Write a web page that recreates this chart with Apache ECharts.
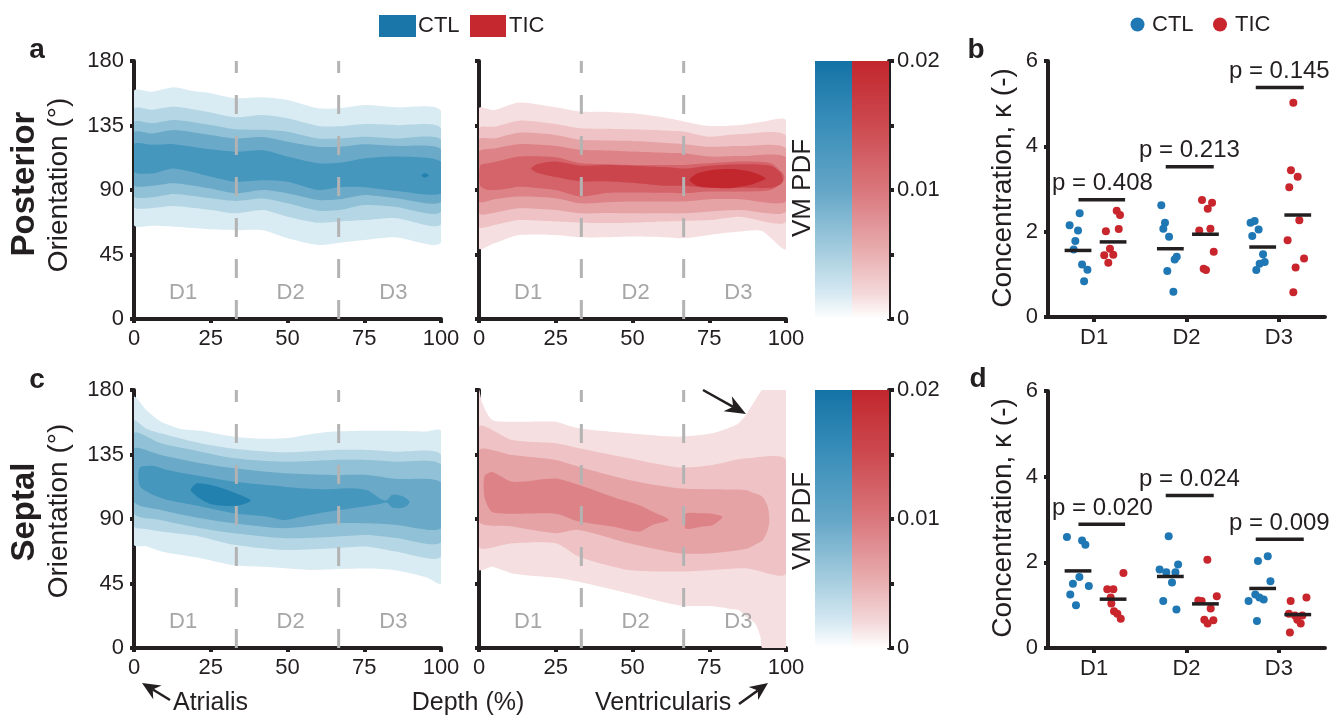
<!DOCTYPE html>
<html>
<head>
<meta charset="utf-8">
<title>Orientation and concentration</title>
<script src="https://cdn.jsdelivr.net/npm/echarts@6/dist/echarts.min.js"></script>
<style>
  html, body { margin: 0; padding: 0; background: #fff; }
  #main { width: 1331px; height: 717px; }
</style>
</head>
<body>
<div id="main"></div>
<script>
// contour bands: [depth %, lower deg, upper deg]
const postCtlBands = [
  [[0,65.6,159],[6,65,158.5],[13,64.4,161.6],[19,63.5,159],[25,62.6,157.5],[33,62,154],[42,62,154.7],[50,56.3,152.8],[60,51.6,147],[67,53.2,147],[75,55.1,149.3],[85,57,147.7],[100,53.5,145]],
  [[0,78.4,146.5],[6,77.5,146],[13,78.8,148],[25,76,144],[33,73.7,140.7],[42,76,142.3],[50,71.4,140],[60,67.2,134.7],[67,68,134.4],[75,69,136],[85,70.5,135.3],[100,66.3,133]],
  [[0,85.8,137.2],[6,85,136.5],[13,87.2,138.8],[25,84.2,135.3],[33,82.3,132.3],[42,84,132],[50,80.7,130.7],[60,75.6,126],[67,76,126],[75,79.5,127.2],[85,78.4,126],[100,74.8,124.9]],
  [[0,93.5,130.2],[6,93,129.5],[13,94.7,131.9],[25,91,128.4],[33,87.7,126],[42,90,127],[50,87.7,123.7],[60,83,120.2],[67,83.5,120.2],[75,86.5,122],[85,84.4,120.8],[100,81.8,118.4]],
  [[0,102.8,122],[6,101.5,121.5],[13,105,122],[25,99.3,118.4],[33,95.8,116.7],[42,96.8,117.7],[50,95.8,113.3],[60,90,108.6],[67,92,109],[75,92,112],[85,89.5,113.3],[100,87.7,109.7]],
  [[93.6,100.2,100.2],[94.8,98.7,101.7],[96,100.2,100.2]]
];
const postCtlLevel = [0, 1, 2, 3, 4, 5];

const postTicBands = [
  [[0,49.3,147],[5,52.8,145.8],[13,58.6,151],[25,58.6,147.7],[33,57,144.7],[42,57,144.5],[50,57.5,143.5],[60,57,140.7],[67,56.3,137.7],[75,58.6,134.7],[85,61,135.4],[92,61.5,137.5],[100,49,138.5]],
  [[0,64.4,133],[5,65.6,134.2],[13,69,138.4],[25,68,136],[33,67.2,133],[42,67,132.8],[50,67.2,132.3],[60,68,131.5],[67,68.4,130.7],[75,69,127.2],[85,71.4,129],[100,68,127.7]],
  [[0,73.7,125],[5,74.2,126],[13,77.2,130],[25,76,128.4],[33,73.7,125],[42,74,124.5],[50,73.7,124.2],[60,73.7,123],[67,73.7,122],[75,75,120.2],[85,76,120.7],[100,75,119]],
  [[0,81.9,116.8],[5,83.5,119],[13,85.4,122],[25,84.2,120.7],[33,80.7,118],[42,81.5,117.5],[50,81.9,116.8],[60,81.9,116],[67,81.9,115.6],[75,83.5,113.3],[85,83.5,113.7],[100,81.9,112.8]],
  [[0.4,93,107],[3,90,108.6],[8,90.5,111],[13,92.3,113.3],[25,90,112.8],[33,85.4,108.6],[42,88,108],[50,88.2,107.5],[60,88,107.5],[67,87.7,107.5],[75,88.9,108.6],[85,88.9,109.8],[95,90,108.6],[99,95.8,101.6],[99.5,98.7,98.7]],
  [[17,105,105],[19,102,108],[25,99,109.8],[33,96,107],[42,96,107.5],[50,95,107],[60,93,106],[67,93,105],[75,91.5,107],[85,91.5,108],[95,91.5,107],[98.3,94,102],[99,97,97]],
  [[68.6,97,97],[71,93,101.5],[76,91.5,104],[82,91.3,104.6],[88,93.5,103],[91.5,96,100.5],[93.4,98.1,98.1]]
];
const postTicLevel = [0, 1, 2, 3, 4, 5, 6];

const septCtlBands = [
  [[0,72,175],[4,71,166],[8.7,67.5,158],[15,65,153],[21.7,62.6,151.5],[32.6,57.7,147.4],[42,56.6,146],[50,55.4,146.5],[57,54.5,149],[65,55,151],[76,55.4,151.6],[85,54.3,151.5],[95,49.6,151],[100,45.4,151.4]],
  [[0,85,158.5],[4,83,153],[8.7,81.2,149.8],[21.7,77.7,142.8],[32.6,72,139],[48.9,68.4,136.5],[65.1,69.6,138.2],[76,70.7,138.2],[85,67.5,137],[100,64,134.7]],
  [[0,94,149.8],[8.7,89.3,142.8],[21.7,83.5,137],[32.6,80,132.4],[48.9,76.6,130],[65.1,77.7,131.2],[76,78.9,131.2],[85,77,130],[100,74,127.7]],
  [[0,102,139],[8.7,96.3,134.7],[21.7,90.5,128.9],[32.6,87,125.4],[48.9,83.5,121.9],[65.1,87,120.7],[76,87,120.7],[85,86,118],[100,83.5,115.5]],
  [[1.5,116,124],[2.2,112,126.5],[4.3,109,127],[6.5,106.5,127],[10.9,103.2,124.2],[19.5,99.7,120.7],[32.6,94,116],[43.4,91.6,113.7],[48.9,89.3,112.5],[54.3,91.6,111.4],[63,95.1,110.7],[70.6,97.4,111.4],[76,99,110],[80,100.4,104.5],[82.3,101.5,103],[84,98.2,106.7],[87,97.6,106.2],[89,99.5,104],[89.8,101.8,101.8]],
  [[18.5,110.3,110.3],[20.6,105.6,114.9],[25,100.4,113.7],[30.4,99,110.3],[34.7,99.7,106.7],[38,102.8,102.8]]
];
const septCtlLevel = [0, 1, 2, 3, 4, 5];

const septTicBands = [
  [[0,54.4,180],[1.1,54.4,170.7],[4.3,56.7,159],[10.9,52,157.9],[21.7,49.6,158],[25,49,157.9],[32.6,46.2,153.3],[48.9,38,149.8],[65,29.8,147.4],[76,29.1,149.8],[82.5,27,154.5],[84.7,26.3,157],[86.9,22,162.5],[90,17,173],[91.7,7.7,178.8],[92.3,0,180],[100,0,180]],
  [[0,70.7,154.4],[10.9,73,145.1],[25,73,142.8],[32.6,63.7,139.3],[48.9,54.4,132.3],[65,53.3,126],[76,54.4,127.7],[86.9,55.6,132.3],[100,52,131.2]],
  [[0,88.2,138.1],[10.9,84.7,134.6],[25,80.1,131.2],[32.6,82.4,126.5],[48.9,73,117.2],[65,66.1,111.4],[76,66.1,110.7],[86.9,69,110.2],[89,71,108.5],[92.3,75,105.6],[94,82,99],[94.6,89,89]],
  [[1.8,105,120],[4.3,94.8,122.8],[10.9,93.7,116],[25,93.7,118.3],[32.6,88.2,113.7],[43.4,84.7,105.6],[52,81.2,99.8],[56.5,85.9,95.2],[61.9,89.3,89.3]],
  [[67.3,83.3,93.7],[72,84.5,94],[76,85.6,93.7],[79.3,91.4,91.4]]
];
const septTicLevel = [0, 1, 2, 3, 3];

const blueLevels = ['#d9ebf3', '#b5d6e4', '#90c1d6', '#6aa9c8', '#4697bd', '#2281ae'];
const redLevels = ['#f6dfe0', '#efc3c5', '#e6a3a6', '#dd8387', '#d4636a', '#cb454c', '#c1272d'];

const dividers = [100 / 3, 200 / 3];
const regionNames = ['D1', 'D2', 'D3'];
const regionX = [16, 51, 84.5];
const orientTicks = [0, 45, 90, 135, 180];

// concentration kappa, x = group index + jitter
const groups = ['D1', 'D2', 'D3'];
const postCtlDots = [
  [0.734,2.15],[0.843,2.43],[0.825,2.03],[0.796,1.78],[0.778,1.58],[0.869,1.23],[0.927,1.11],[0.891,0.84],
  [1.727,2.62],[1.767,2.21],[1.749,2.07],[1.811,1.88],[1.894,1.41],[1.872,1.35],[1.792,1.08],[1.858,0.59],
  [2.694,2.21],[2.738,2.25],[2.781,2.05],[2.712,1.90],[2.829,1.47],[2.847,1.29],[2.792,1.25],[2.756,1.10]
];
const postTicDots = [
  [1.244,2.49],[1.280,2.39],[1.266,2.06],[1.127,2.01],[1.171,1.60],[1.109,1.45],[1.207,1.46],[1.153,1.27],
  [2.168,2.74],[2.277,2.68],[2.230,2.54],[2.259,2.07],[2.138,2.03],[2.295,1.53],[2.186,1.13],[2.211,1.10],
  [3.157,5.02],[3.131,3.44],[3.204,3.29],[3.113,3.04],[3.222,2.27],[3.095,1.80],[3.273,1.37],[3.182,1.16],[3.157,0.58]
];
const septCtlDots = [
  [0.705,2.59],[0.869,2.51],[0.905,2.41],[0.840,1.66],[0.770,1.50],[0.942,1.45],[0.741,1.25],[0.803,1.00],
  [1.807,2.61],[1.909,1.95],[1.709,1.83],[1.781,1.77],[1.880,1.77],[1.843,1.53],[1.748,1.10],[1.891,0.90],
  [2.880,2.14],[2.774,2.03],[2.909,1.56],[2.745,1.25],[2.836,1.13],[2.672,1.10],[2.789,1.18],[2.763,0.63]
];
const septTicDots = [
  [1.317,1.75],[1.142,1.37],[1.208,1.37],[1.179,1.18],[1.186,1.04],[1.215,0.86],[1.251,0.80],[1.288,0.68],
  [2.226,2.06],[2.328,1.21],[2.128,1.11],[2.164,1.10],[2.262,0.92],[2.193,0.66],[2.291,0.65],[2.229,0.57],
  [3.299,1.18],[3.128,1.10],[3.109,0.80],[3.255,0.76],[3.237,0.57],[3.120,0.36],[3.175,0.76],[3.200,0.66]
];
const postCtlMean = [1.56, 1.60, 1.64];
const postTicMean = [1.76, 1.94, 2.39];
const septCtlMean = [1.80, 1.67, 1.39];
const septTicMean = [1.14, 1.03, 0.78];
const postPText = ['p = 0.408', 'p = 0.213', 'p = 0.145'];
const postPBar = [2.75, 3.52, 5.38];
const septPText = ['p = 0.020', 'p = 0.024', 'p = 0.009'];
const septPBar = [2.89, 3.56, 2.54];
const pdfTicks = [0, 0.01, 0.02];

const INK = '#231f20';
const FONT = '"Liberation Sans", Arial, Helvetica, sans-serif';
const BLUE = '#1f77b4';
const RED = '#c8252c';

let chart = echarts.init(document.getElementById('main'));

function bandRender(bands, levels, colors) {
  return function (params, api) {
    const b = bands[params.dataIndex];
    const pts = b.map(p => api.coord([p[0], p[2]]));
    for (let i = b.length - 1; i >= 0; i--) {
      if (b[i][1] !== b[i][2]) pts.push(api.coord([b[i][0], b[i][1]]));
    }
    return {
      type: 'polygon',
      shape: { points: pts, smooth: 0.25 },
      style: { fill: colors[levels[params.dataIndex]], stroke: null }
    };
  };
}

function contourSeries(ax, ay, bands, levels, colors) {
  return [{
    type: 'custom', xAxisIndex: ax, yAxisIndex: ay, clip: true, silent: true,
    data: bands.map((b, i) => [i]),
    renderItem: bandRender(bands, levels, colors)
  }, {
    type: 'custom', xAxisIndex: ax, yAxisIndex: ay, silent: true, z: 3,
    data: dividers.map(d => [d]),
    renderItem: function (params, api) {
      const x = api.value(0);
      const p0 = api.coord([x, 0]), p1 = api.coord([x, 180]);
      return { type: 'line', shape: { x1: p0[0], y1: p0[1], x2: p1[0], y2: p1[1] },
        style: { stroke: '#b3b3b3', lineWidth: 3, lineDash: [19, 22] } };
    }
  }, {
    type: 'custom', xAxisIndex: ax, yAxisIndex: ay, silent: true, z: 3,
    data: regionX.map(x => [x, 18]),
    renderItem: function (params, api) {
      const p = api.coord([api.value(0), api.value(1)]);
      return { type: 'text', x: p[0], y: p[1],
        style: { text: regionNames[params.dataIndex], fill: '#a6a6a6', fontSize: 22, fontFamily: FONT,
          align: 'center', verticalAlign: 'middle' } };
    }
  }];
}

function scatterSeries(ax, ay, ctl, tic, ctlMean, ticMean, pText, pBar) {
  const meanSeries = function (means, from, to) {
    return {
      type: 'custom', xAxisIndex: ax, yAxisIndex: ay, silent: true, z: 4,
      data: means.map((m, i) => [i + 1, m]),
      renderItem: function (params, api) {
        const a = api.coord([api.value(0) + from, api.value(1)]);
        const b = api.coord([api.value(0) + to, api.value(1)]);
        return { type: 'line', shape: { x1: a[0], y1: a[1], x2: b[0], y2: b[1] },
          style: { stroke: INK, lineWidth: 3.5 } };
      }
    };
  };
  const barLeft = [-0.17, -0.225, -0.25];
  const barRight = [0.335, 0.295, 0.27];
  const textShift = [0.09, 0.032, 0.005];
  return [
    { type: 'scatter', name: 'CTL', xAxisIndex: ax, yAxisIndex: ay, data: ctl, symbolSize: 8,
      itemStyle: { color: BLUE, opacity: 1 }, silent: true },
    { type: 'scatter', name: 'TIC', xAxisIndex: ax, yAxisIndex: ay, data: tic, symbolSize: 8,
      itemStyle: { color: RED, opacity: 1 }, silent: true },
    meanSeries(ctlMean, -0.32, -0.03),
    meanSeries(ticMean, 0.06, 0.35),
    {
      type: 'custom', xAxisIndex: ax, yAxisIndex: ay, silent: true, z: 4,
      data: pBar.map((v, i) => [i + 1, v]),
      renderItem: function (params, api) {
        const i = params.dataIndex;
        const x = api.value(0), y = api.value(1);
        const a = api.coord([x + barLeft[i], y]);
        const b = api.coord([x + barRight[i], y]);
        const t = api.coord([x + textShift[i], y]);
        return { type: 'group', children: [
          { type: 'line', shape: { x1: a[0], y1: a[1], x2: b[0], y2: b[1] },
            style: { stroke: INK, lineWidth: 3.5 } },
          { type: 'text', x: t[0], y: t[1] - 16,
            style: { text: pText[i], fill: INK, fontSize: 24, fontFamily: FONT,
              align: 'center', verticalAlign: 'middle' } }
        ] };
      }
    }
  ];
}

const axisLineStyle = { show: true, onZero: false, lineStyle: { color: INK, width: 4 } };
const tickStyle = { show: true, length: 4, lineStyle: { color: INK, width: 4 } };
const labelStyle = { color: INK, fontSize: 22, fontFamily: FONT };

function depthAxis(g) {
  return { gridIndex: g, type: 'value', min: 0, max: 100, interval: 25,
    axisLine: axisLineStyle, axisTick: tickStyle,
    axisLabel: Object.assign({ margin: 9 }, labelStyle), splitLine: { show: false } };
}
function orientAxis(g, showLabels) {
  return { gridIndex: g, type: 'value', min: orientTicks[0], max: orientTicks[orientTicks.length - 1], interval: 45,
    axisLine: axisLineStyle, axisTick: tickStyle,
    axisLabel: Object.assign({ show: showLabels, margin: 10 }, labelStyle), splitLine: { show: false } };
}
function barCatAxis(g) {
  return { gridIndex: g, type: 'category', data: ['CTL', 'TIC'], show: false, boundaryGap: true };
}
function pdfAxis(g) {
  return { gridIndex: g, type: 'value', position: 'right', min: 0, max: 0.02, interval: 0.005,
    axisLine: axisLineStyle, axisTick: { show: true, length: 5, lineStyle: { color: INK, width: 4 } },
    axisLabel: Object.assign({ margin: 8, formatter: function (v) {
      const hit = pdfTicks.find(t => Math.abs(t - v) < 1e-9);
      return hit === undefined ? '' : (hit === 0 ? '0' : hit.toFixed(2));
    } }, labelStyle),
    splitLine: { show: false } };
}
function groupAxis(g) {
  return { gridIndex: g, type: 'category', data: groups, boundaryGap: true,
    axisLine: axisLineStyle, axisTick: { show: true, alignWithLabel: true, length: 5, lineStyle: { color: INK, width: 4 } },
    axisLabel: Object.assign({ margin: 10 }, labelStyle), splitLine: { show: false } };
}
function jitterAxis(g) {
  return { gridIndex: g, type: 'value', min: 0.5, max: 3.5, show: false, splitLine: { show: false } };
}
function kappaAxis(g) {
  return { gridIndex: g, type: 'value', min: 0, max: 6, interval: 2,
    axisLine: axisLineStyle, axisTick: tickStyle,
    axisLabel: Object.assign({ margin: 10 }, labelStyle), splitLine: { show: false } };
}

function barColor(stops) {
  return new echarts.graphic.LinearGradient(0, 0, 0, 1, stops.map(s => ({ offset: s[0], color: s[1] })));
}
const blueRamp = [[0, '#1473a5'], [0.25, '#3a8fba'], [0.5, '#64a6c7'], [0.75, '#a9cfe0'], [0.9, '#d6e9f2'], [1, '#ffffff']];
const redRamp = [[0, '#c1272d'], [0.25, '#cc4a50'], [0.5, '#d9777c'], [0.75, '#e9b0b2'], [0.9, '#f4d8d9'], [1, '#ffffff']];
function colorbarSeries(ax, ay) {
  return { type: 'bar', xAxisIndex: ax, yAxisIndex: ay, barWidth: '100%', silent: true,
    data: [
      { value: pdfTicks[2], itemStyle: { color: barColor(blueRamp) } },
      { value: pdfTicks[2], itemStyle: { color: barColor(redRamp) } }
    ] };
}

function txt(text, x, y, size, opts) {
  opts = opts || {};
  return { type: 'text', x: x, y: y, rotation: opts.rot || 0, silent: true,
    style: { text: text, fill: opts.color || INK, fontSize: size, fontFamily: FONT,
      fontWeight: opts.bold ? 'bold' : 'normal', align: opts.align || 'center', verticalAlign: 'middle' } };
}
function arrow(x1, y1, x2, y2, L, W) {
  const ang = Math.atan2(y2 - y1, x2 - x1);
  const c = Math.cos(ang), s = Math.sin(ang);
  const bx = x2 - L * c, by = y2 - L * s;
  const nx = -s * W, ny = c * W;
  const kx = x2 - L * 0.7 * c, ky = y2 - L * 0.7 * s;
  return [
    { type: 'line', silent: true, shape: { x1: x1, y1: y1, x2: kx, y2: ky }, style: { stroke: INK, lineWidth: 2.5 } },
    { type: 'polygon', silent: true, shape: { points: [[x2, y2], [bx + nx, by + ny], [kx, ky], [bx - nx, by - ny]] },
      style: { fill: INK } }
  ];
}

const V = Math.PI / 2;
let option = {
  animation: false,
  backgroundColor: '#fff',
  grid: [
    { left: 134, top: 61, width: 307, height: 258 },
    { left: 479, top: 61, width: 307, height: 258 },
    { left: 815, top: 61, width: 74, height: 258 },
    { left: 1048, top: 61, width: 277, height: 256 },
    { left: 134, top: 390, width: 307, height: 258 },
    { left: 479, top: 390, width: 307, height: 258 },
    { left: 815, top: 390, width: 74, height: 258 },
    { left: 1048, top: 391, width: 277, height: 257 }
  ],
  // x: 0,1 contour | 2 bar | 3 groups, 4 jitter | 5,6 contour | 7 bar | 8 groups, 9 jitter
  xAxis: [
    depthAxis(0), depthAxis(1), barCatAxis(2), groupAxis(3), jitterAxis(3),
    depthAxis(4), depthAxis(5), barCatAxis(6), groupAxis(7), jitterAxis(7)
  ],
  // y: 0,1 contour | 2 pdf | 3 kappa | 4,5 contour | 6 pdf | 7 kappa
  yAxis: [
    orientAxis(0, true), orientAxis(1, false), pdfAxis(2), kappaAxis(3),
    orientAxis(4, true), orientAxis(5, false), pdfAxis(6), kappaAxis(7)
  ],
  series: [].concat(
    contourSeries(0, 0, postCtlBands, postCtlLevel, blueLevels),
    contourSeries(1, 1, postTicBands, postTicLevel, redLevels),
    contourSeries(5, 4, septCtlBands, septCtlLevel, blueLevels),
    contourSeries(6, 5, septTicBands, septTicLevel, redLevels),
    [colorbarSeries(2, 2), colorbarSeries(7, 6)],
    scatterSeries(4, 3, postCtlDots, postTicDots, postCtlMean, postTicMean, postPText, postPBar),
    scatterSeries(9, 7, septCtlDots, septTicDots, septCtlMean, septTicMean, septPText, septPBar)
  ),
  graphic: [].concat([
    txt('a', 37, 50, 28, { bold: true }),
    txt('b', 976, 50, 28, { bold: true }),
    txt('c', 37, 380, 28, { bold: true }),
    txt('d', 978, 379, 28, { bold: true }),
    txt('Posterior', 25, 184, 33, { bold: true, rot: V }),
    txt('Orientation (°)', 59, 185, 28, { rot: V }),
    txt('Septal', 25, 512, 33, { bold: true, rot: V }),
    txt('Orientation (°)', 59, 511, 28, { rot: V }),
    txt('VM PDF', 803, 188, 26, { rot: V }),
    txt('VM PDF', 803, 521, 26, { rot: V }),
    txt('Concentration, κ (-)', 1003, 188, 28, { rot: V }),
    txt('Concentration, κ (-)', 1003, 518, 28, { rot: V }),
    { type: 'rect', silent: true, shape: { x: 379, y: 15, width: 37, height: 22 }, style: { fill: '#1a75a8' } },
    txt('CTL', 418, 26, 22, { align: 'left' }),
    { type: 'rect', silent: true, shape: { x: 470, y: 15, width: 36, height: 22 }, style: { fill: '#c6282f' } },
    txt('TIC', 509, 26, 22, { align: 'left' }),
    { type: 'circle', silent: true, shape: { cx: 1137.5, cy: 24.5, r: 7 }, style: { fill: BLUE } },
    txt('CTL', 1152, 25, 22, { align: 'left' }),
    { type: 'circle', silent: true, shape: { cx: 1220, cy: 24.5, r: 7 }, style: { fill: RED } },
    txt('TIC', 1235, 25, 22, { align: 'left' }),
    txt('Atrialis', 173, 703, 25, { align: 'left' }),
    txt('Depth (%)', 468, 703, 25),
    txt('Ventricularis', 595, 703, 25, { align: 'left' })
  ], arrow(170, 700, 142, 683, 18, 8), arrow(739, 704, 768, 683, 18, 8), arrow(703, 390, 746, 414, 21, 8.5))
};

chart.setOption(option);
</script>
</body>
</html>
